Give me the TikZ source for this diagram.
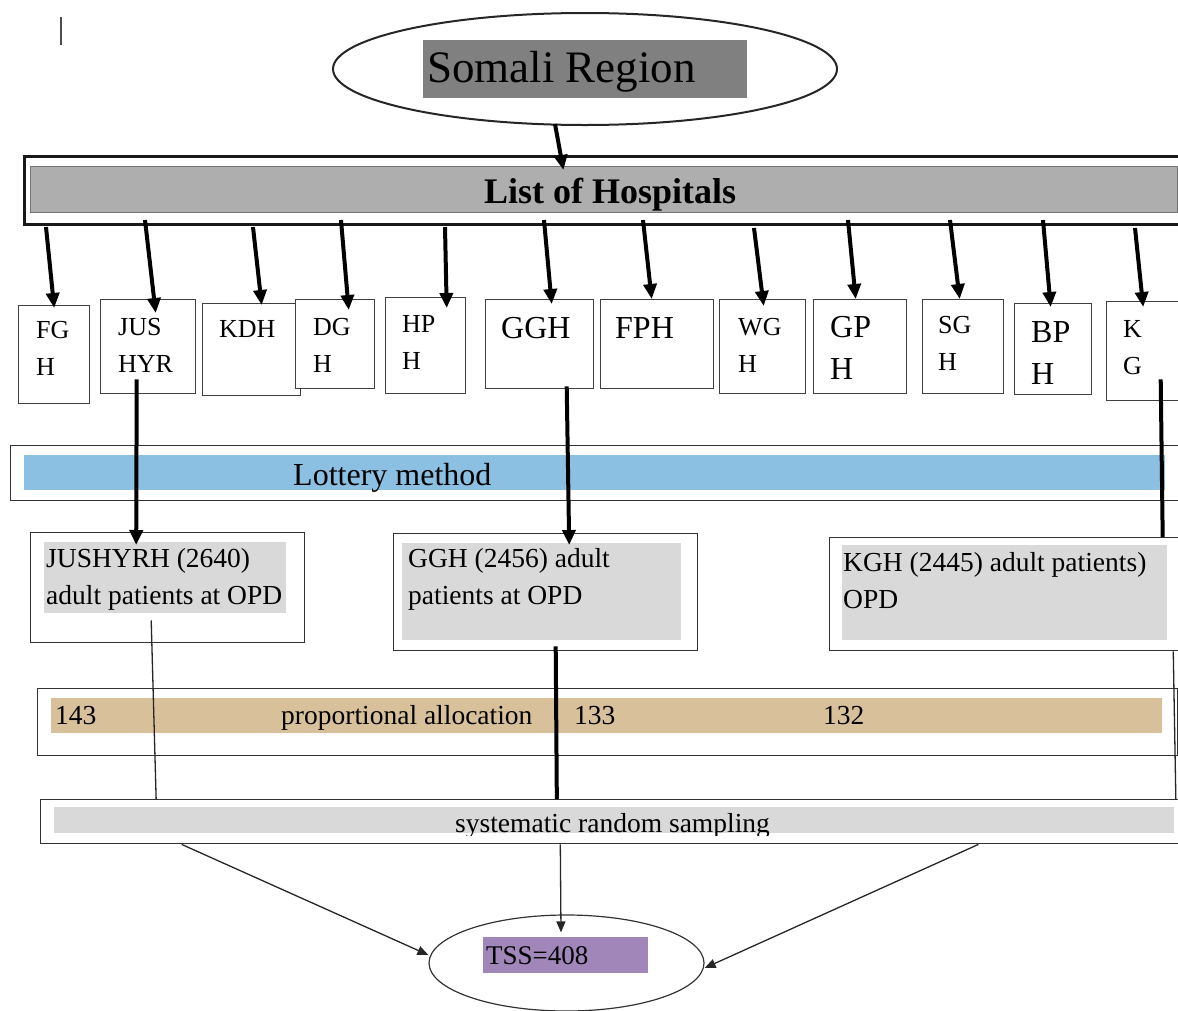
\documentclass[tikz,border=0pt]{standalone}
\usepackage{fontspec}
\setmainfont{Liberation Serif}
\usepackage{tikz}
\usetikzlibrary{arrows.meta,positioning,calc,shapes.geometric}
\definecolor{regiongray}{HTML}{808080}
\definecolor{listgray}{HTML}{AEAEAE}
\definecolor{lotblue}{HTML}{8BC0E3}
\definecolor{boxgray}{HTML}{D9D9D9}
\definecolor{propfill}{HTML}{D8C09A}
\definecolor{tsspurple}{HTML}{A086B9}
\tikzset{
  frame/.style={draw=black!80, line width=1.4pt, fill=white, inner sep=0pt, anchor=north west},
  hosp/.style={draw=black!75, line width=1.4pt, fill=white, inner sep=0pt, anchor=north west},
  bar/.style={inner sep=0pt, anchor=north west},
  hlbl/.style={inner sep=0pt, anchor=north west, align=left, font=\fontsize{26}{37}\selectfont},
  hbig/.style={inner sep=0pt, anchor=north west, align=left, font=\fontsize{32}{42}\selectfont},
  lbl/.style={inner sep=0pt, anchor=base west, font=\fontsize{27.5}{37}\selectfont},
  para/.style={inner sep=0pt, anchor=north west, align=left, font=\fontsize{27.5}{37}\selectfont},
  arrow/.style={-{Triangle[length=15pt,width=13pt]}, line width=4pt},
  thickline/.style={line width=4pt},
  thinline/.style={line width=1.3pt, draw=black!85},
  thinarrow/.style={-{Triangle[length=11pt,width=9pt]}, line width=1.3pt, draw=black!85}
}

\begin{document}
\begin{tikzpicture}[x=1pt, y=-1pt]
\useasboundingbox (0,0) rectangle (1178,1010);
\draw[black!70, line width=1.5pt] (61,17) -- (61,45);

% region
\node[ellipse, draw=black!85, line width=2pt, minimum width=504pt, minimum height=112pt, inner sep=0pt] (regionell) at (585,69) {};
\node[bar, fill=regiongray, minimum width=324pt, minimum height=58pt] (region) at (423,40) {};
\node[inner sep=0pt, anchor=base west, font=\fontsize{45}{50}\selectfont] (regiontxt) at (427,82) {Somali Region};

% list of hospitals
\node[frame, line width=2.5pt, draw=black!90, minimum width=1177pt, minimum height=68pt] (list) at (23,155) {};
\node[bar, fill=listgray, draw=black!55, line width=0.8pt, minimum width=1147pt, minimum height=46pt] (listin) at (30,166) {};
\node[inner sep=0pt, anchor=base west, font=\fontsize{36}{40}\selectfont\bfseries] (listtxt) at (484,203) {List of Hospitals};

% hospitals
\node[hosp, minimum width=71pt, minimum height=98pt] (fgh) at (18,305) {};
\node[hosp, minimum width=95pt, minimum height=94pt] (jus) at (100,299) {};
\node[hosp, minimum width=98pt, minimum height=92pt] (kdh) at (202,303) {};
\node[hosp, minimum width=79pt, minimum height=89pt] (dgh) at (295,299) {};
\node[hosp, minimum width=80pt, minimum height=96pt] (hph) at (385,297) {};
\node[hosp, minimum width=108pt, minimum height=89pt] (ggh) at (485,299) {};
\node[hosp, minimum width=113pt, minimum height=89pt] (fph) at (600,299) {};
\node[hosp, minimum width=86pt, minimum height=94pt] (wgh) at (719,299) {};
\node[hosp, minimum width=93pt, minimum height=94pt] (gph) at (813,299) {};
\node[hosp, minimum width=81pt, minimum height=94pt] (sgh) at (922,299) {};
\node[hosp, minimum width=77pt, minimum height=91pt] (bph) at (1014,303) {};
\node[hosp, minimum width=73pt, minimum height=99pt] (kg) at (1106,301) {};

\node[hlbl] (fghtxt) at (36,321) {FG\\H};
\node[hlbl] (justxt) at (118,318) {JUS\\HYR};
\node[hlbl] (kdhtxt) at (219,320) {KDH};
\node[hlbl] (dghtxt) at (313,318) {DG\\H};
\node[hlbl] (hphtxt) at (402,315) {HP\\H};
\node[hbig] (gghtxt) at (501,317) {GGH};
\node[hbig] (fphtxt) at (615,317) {FPH};
\node[hlbl] (wghtxt) at (738,318) {WG\\H};
\node[hbig] (gphtxt) at (830,316) {GP\\H};
\node[hlbl] (sghtxt) at (938,316) {SG\\H};
\node[hbig] (bphtxt) at (1031,321) {BP\\H};
\node[hlbl] (kgtxt) at (1123,320) {K\\G};

% lottery
\node[frame, minimum width=1190pt, minimum height=55pt] (lotbox) at (10,445) {};
\node[bar, fill=lotblue, minimum width=1141pt, minimum height=35pt] (lottery) at (24,455) {};
\node[inner sep=0pt, anchor=base west, font=\fontsize{32}{36}\selectfont] (lottxt) at (293,485) {Lottery method};

% selected hospitals
\node[frame, minimum width=274pt, minimum height=110pt] (jbox) at (30,532) {};
\node[bar, fill=boxgray, minimum width=242pt, minimum height=71pt] (jin) at (44,542) {};
\node[para] (jtxt) at (46,548) {JUSHYRH (2640)\\adult patients at OPD};
\node[frame, minimum width=304pt, minimum height=117pt] (gbox) at (393,533) {};
\node[bar, fill=boxgray, minimum width=279pt, minimum height=97pt] (gin) at (402,543) {};
\node[para] (gtxt) at (408,548) {GGH (2456) adult\\patients at OPD};
\node[frame, minimum width=366pt, minimum height=113pt] (kbox) at (829,537) {};
\node[bar, fill=boxgray, minimum width=325pt, minimum height=95pt] (kin) at (842,545) {};
\node[para] (ktxt) at (843,552) {KGH (2445) adult patients)\\OPD};

% allocation
\node[frame, minimum width=1140pt, minimum height=67pt] (propbox) at (37,688) {};
\node[bar, fill=propfill, minimum width=1111pt, minimum height=35pt] (prop) at (51,698) {};
\node[lbl] (n143) at (55,724) {143};
\node[lbl] (proptxt) at (281,724) {proportional allocation};
\node[lbl] (n133) at (574,724) {133};
\node[lbl] (n132) at (823,724) {132};

% sampling
\node[frame, minimum width=1160pt, minimum height=44pt] (sysbox) at (40,799) {};
\node[bar, fill=boxgray, minimum width=1120pt, minimum height=26pt] (sysin) at (54,807) {};
\begin{scope}
  \clip (sysin.north west) rectangle ([yshift=-2pt]sysin.south east);
  \node[lbl] (systxt) at (455,832) {systematic random sampling};
\end{scope}

% total sample
\node[ellipse, draw=black!80, line width=1.2pt, minimum width=275pt, minimum height=96pt, inner sep=0pt] (tss) at (566.5,963) {};
\node[bar, fill=tsspurple, minimum width=165pt, minimum height=36pt] (tssbox) at (483,937) {};
\node[inner sep=0pt, anchor=base west, font=\fontsize{27}{30}\selectfont] (tsstxt) at (486,964) {TSS=408};

% arrows
\draw[arrow] ([xshift=-30pt,yshift=2pt]regionell.south) -- ([xshift=-40.5pt,yshift=-4pt]listin.north);

\coordinate (s1) at (46,227);
\coordinate (s2) at (145,220);
\coordinate (s3) at (253,227);
\coordinate (s4) at (341,220);
\coordinate (s5) at (445,227);
\coordinate (s6) at (544,220);
\coordinate (s7) at (643,220);
\coordinate (s8) at (754,228);
\coordinate (s9) at (848,220);
\coordinate (s10) at (950,220);
\coordinate (s11) at (1043,220);
\coordinate (s12) at (1135,228);
\draw[arrow] (s1) -- ([yshift=-3pt]fgh.north);
\draw[arrow] (s2) -- ([xshift=7.5pt,yshift=-14pt]jus.north);
\draw[arrow] (s3) -- ([xshift=10pt,yshift=-2pt]kdh.north);
\draw[arrow] (s4) -- ([xshift=13.5pt,yshift=-11pt]dgh.north);
\draw[arrow] (s5) -- ([xshift=21pt,yshift=-11pt]hph.north);
\draw[arrow] (s6) -- ([xshift=12pt,yshift=-5pt]ggh.north);
\draw[arrow] (s7) -- ([xshift=-5.5pt]fph.north);
\draw[arrow] (s8) -- ([xshift=1pt,yshift=-7pt]wgh.north);
\draw[arrow] (s9) -- ([xshift=-4.5pt]gph.north);
\draw[arrow] (s10) -- ([xshift=-3.5pt]sgh.north);
\draw[arrow] (s11) -- ([xshift=-2.5pt,yshift=-4pt]bph.north);
\draw[arrow] (s12) -- ([yshift=-6pt]kg.north);

\draw[arrow] ([xshift=-11.5pt,yshift=15pt]jus.south) -- ([xshift=-29pt,yshift=-3pt]jin.north);
\draw[arrow] ([xshift=27pt,yshift=3pt]ggh.south) -- ([xshift=27.5pt,yshift=-2pt]gin.north);
\draw[thickline] ([xshift=17.5pt,yshift=22pt]kg.south) -- ([xshift=150pt]kbox.north);

\draw[thinline] ([xshift=-14pt,yshift=-7pt]jin.south) -- ($(sysbox.north west)!0.1!(sysbox.north east)$);
\draw[thickline] ([xshift=10pt,yshift=5pt]gbox.south) -- ($(sysbox.north west)!0.445!(sysbox.north east)$);
\draw[thinline] ($(kbox.south west)!0.937!(kbox.south east)$) -- ($(sysbox.north west)!0.978!(sysbox.north east)$);

\draw[thinarrow] ($(sysbox.south west)!0.122!(sysbox.south east)$) -- ([yshift=8pt]tss.west);
\draw[thinarrow] ($(sysbox.south west)!0.448!(sysbox.south east)$) -- ([xshift=-5.5pt,yshift=-18pt]tss.north);
\draw[thinarrow] ($(sysbox.south west)!0.808!(sysbox.south east)$) -- ([yshift=-5pt]tss.east);
\end{tikzpicture}
\end{document}
